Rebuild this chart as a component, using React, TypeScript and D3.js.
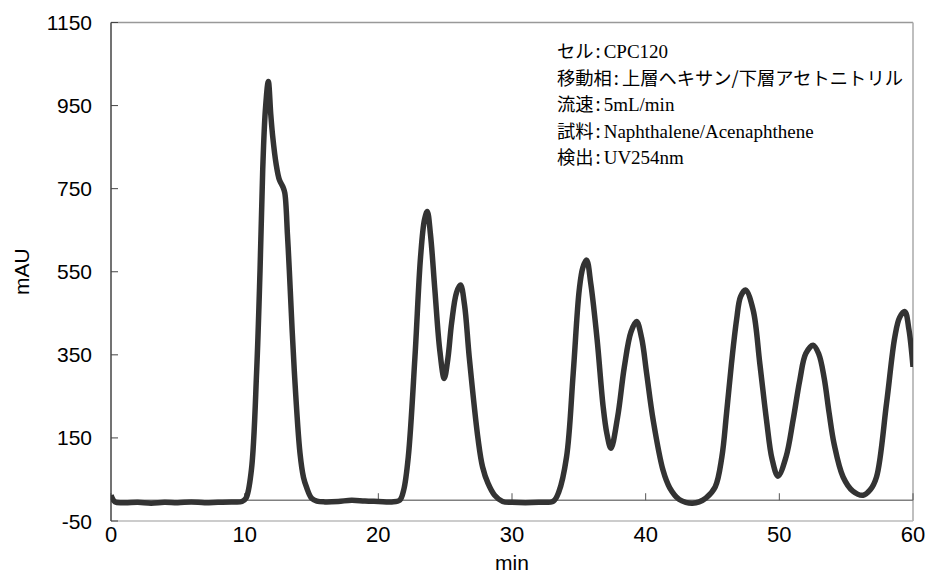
import React from "react";
import * as d3 from "d3";

// chromatogram (min, mAU)
const times = [
  0, 0.3, 1, 2, 3, 4, 5, 6, 7, 8, 9, 9.8, 10.1,
  10.5, 10.9, 11.15, 11.35, 11.55, 11.77, 11.95, 12.1, 12.35, 12.6, 12.85, 13.0, 13.2, 13.34, 13.71, 14.14, 14.4, 14.63, 15.0, 15.4,
  16, 17, 18, 19, 20, 21, 21.6, 21.9,
  22.24, 22.74, 23.16, 23.45, 23.66, 23.9, 24.23, 24.6, 24.93, 25.2, 25.48, 25.85, 26.15, 26.45, 26.8, 27.47, 27.8, 28.2, 28.7, 29.3,
  30, 31, 32, 33.1, 33.5,
  34.08, 34.58, 35.03, 35.3, 35.58, 35.9, 36.37, 36.82, 37.1, 37.4, 37.9, 38.4, 38.9, 39.32, 39.7, 40.07, 40.56, 41.3, 41.8, 42.5, 43, 43.5, 44, 44.5,
  45.2, 45.7, 46.05, 46.42, 46.8, 47.1, 47.47, 48.04, 48.54, 49.04, 49.45, 49.9, 50.5, 51.03, 51.53, 51.98, 52.53, 52.95, 53.35, 53.73, 54.1, 54.77, 55.5, 56.27, 56.8, 57.27, 58.02, 58.64, 59.0, 59.39, 59.7, 60,
];
const absorbance = [
  12, -4, -6, -5, -7, -5, -6, -4, -6, -5, -4, -3, 5,
  72, 313, 554, 795, 940, 1008, 930, 875, 810, 771, 755, 740, 640, 554, 313, 113, 55, 31, 5, -2,
  -4, -3, 0, -2, -3, -4, 0, 25,
  104, 345, 586, 675, 695, 640, 506, 360, 293, 340, 426, 500, 518, 470, 345, 145, 80, 41, 12, -3,
  -5, -6, -5, -2, 20,
  104, 306, 506, 560, 578, 520, 386, 225, 160, 125, 200, 320, 405, 430, 390, 306, 193, 72, 30, 2, -5, -7, -4, 5,
  32, 104, 209, 329, 434, 490, 506, 458, 329, 193, 100, 58, 104, 193, 289, 353, 373, 352, 295, 209, 135, 56, 22, 12, 25, 56, 233, 393, 440, 454, 410, 321,
];

const xTicks = [0, 10, 20, 30, 40, 50, 60];
const yTicks = [-50, 150, 350, 550, 750, 950, 1150];

const infoLabels = ["セル", "移動相", "流速", "試料", "検出"];
const infoValues = ["CPC120", "上層ヘキサン/下層アセトニトリル", "5mL/min", "Naphthalene/Acenaphthene", "UV254nm"];

const sans = "'Liberation Sans', Arial, sans-serif";
const gothic = "'Noto Sans CJK JP', sans-serif";
const serif = "'Liberation Serif', 'Times New Roman', serif";

export default function App() {
  const x = d3.scaleLinear().domain([0, 60]).range([111, 913]);
  const y = d3.scaleLinear().domain([-50, 1150]).range([521, 22.5]);

  const pts = times.map((t, i) => [t, absorbance[i]] as [number, number]);
  const line = d3
    .line<[number, number]>()
    .x((d) => x(d[0]))
    .y((d) => y(d[1]))
    .curve(d3.curveCatmullRom.alpha(0.5));

  const [x0, x1] = x.range();
  const [yb, yt] = y.range();

  return (
    <svg
      width={927}
      height={575}
      style={{ position: "absolute", left: 0, top: 0, background: "#fff" }}
    >
      <defs>
        <clipPath id="plot">
          <rect x={x0} y={yt} width={x1 - x0} height={yb - yt} />
        </clipPath>
      </defs>

      {/* frame */}
      <line x1={x0} x2={x1} y1={yt} y2={yt} stroke="#999" strokeWidth={1.5} />
      <line x1={x1} x2={x1} y1={yt} y2={yb} stroke="#aaa" strokeWidth={1.5} />
      <line x1={x0} x2={x1} y1={yb} y2={yb} stroke="#bbb" strokeWidth={1.5} />

      {/* x axis sits at zero */}
      <line x1={x0} x2={x1} y1={y(0)} y2={y(0)} stroke="#808080" strokeWidth={1.5} />
      {xTicks.map((t) => (
        <g key={t}>
          <line x1={x(t)} x2={x(t)} y1={y(0)} y2={y(0) - 7} stroke="#555" strokeWidth={1} />
          <text x={x(t)} y={542} textAnchor="middle" fontFamily={sans} fontSize={22} fill="#000">
            {t}
          </text>
        </g>
      ))}

      {/* y axis */}
      <line x1={x0} x2={x0} y1={yt} y2={yb} stroke="#444" strokeWidth={1.5} />
      {yTicks.map((v) => (
        <g key={v}>
          <line x1={x0} x2={x0 + 7} y1={y(v)} y2={y(v)} stroke="#444" strokeWidth={1} />
          <text x={92} y={y(v) + 7.5} textAnchor="end" fontFamily={sans} fontSize={21} fill="#000">
            {v}
          </text>
        </g>
      ))}

      <text x={512} y={570} textAnchor="middle" fontFamily={sans} fontSize={21} fill="#000">
        min
      </text>
      <text
        transform={`translate(29,${y(550)}) rotate(-90)`}
        textAnchor="middle"
        fontFamily={sans}
        fontSize={21}
        fill="#000"
      >
        mAU
      </text>

      <path
        d={line(pts) || ""}
        fill="none"
        stroke="#333"
        strokeWidth={5.5}
        strokeLinejoin="round"
        clipPath="url(#plot)"
      />

      {/* conditions */}
      {infoLabels.map((lab, i) => {
        const val = infoValues[i];
        const jp = /[^\x00-\x7F]/.test(val);
        return (
          <text key={lab} x={557} y={58 + i * 26.6} fontSize={18.3} fill="#000">
            <tspan fontFamily={gothic}>{lab}</tspan>
            <tspan fontFamily={gothic} dx={2}>:</tspan>
            <tspan fontFamily={jp ? gothic : serif} fontSize={jp ? 18.3 : 19} dx={3}>
              {val}
            </tspan>
          </text>
        );
      })}
    </svg>
  );
}
